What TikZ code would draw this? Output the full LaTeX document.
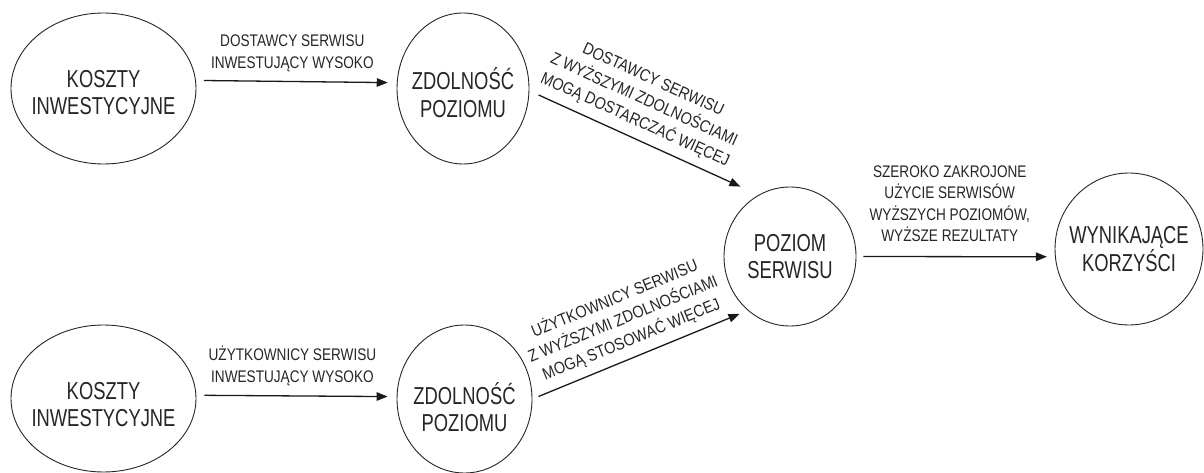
\documentclass[tikz,border=0pt]{standalone}
\usepackage{fontspec}
\setmainfont{Liberation Sans}[FakeStretch=0.75]
\newfontfamily\labfont{Liberation Sans}[FakeStretch=0.81]
\newfontfamily\diagfont{Liberation Sans}[FakeStretch=0.86]
\usetikzlibrary{arrows.meta,shapes.geometric}
\tikzset{
  blob/.style={draw=black!85, line width=0.9pt, ellipse, inner sep=0pt},
  blobtxt/.style={inner sep=0pt, align=center, text=black!85,
    font=\fontsize{24.5}{27.5}\selectfont},
  lab/.style={inner sep=0pt, align=center, text=black!85,
    font=\labfont\fontsize{16.8}{22}\selectfont},
  diag/.style={inner sep=0pt, align=center, text=black!85, sloped,
    font=\diagfont\fontsize{16.8}{22}\selectfont},
  arr/.style={line width=1.3pt, draw=black!90, -{Triangle[length=11pt,width=8.5pt]}}
}
\begin{document}
\begin{tikzpicture}[x=1pt,y=-1pt]
\useasboundingbox (0,0) rectangle (1204,473);
\fill[white] (0,0) rectangle (1204,473);
\node[blob, minimum width=185pt, minimum height=151pt,
  label={[blobtxt, yshift=-4pt]center:KOSZTY\\INWESTYCYJNE}] (K1) at (103.5,88.5) {};
\node[blob, minimum width=132pt, minimum height=151pt,
  label={[blobtxt, yshift=-4pt]center:ZDOLNOŚĆ\\POZIOMU}] (Z1) at (463,88.5) {};
\node[blob, minimum width=185pt, minimum height=147pt,
  label={[blobtxt, yshift=-6pt]center:KOSZTY\\INWESTYCYJNE}] (K2) at (103.5,398.5) {};
\node[blob, minimum width=135pt, minimum height=148pt,
  label={[blobtxt, yshift=-8pt]center:ZDOLNOŚĆ\\POZIOMU}] (Z2) at (464.5,399) {};
\node[blob, minimum width=132pt, minimum height=139pt,
  label={[blobtxt]center:POZIOM\\SERWISU}] (P) at (790,256.5) {};
\node[blob, minimum width=148pt, minimum height=152pt,
  label={[blobtxt]center:WYNIKAJĄCE\\KORZYŚCI}] (W) at (1129,249) {};

\draw[arr, shorten <=8pt, shorten >=9pt] (K1.5) -- node[lab, pos=0.48, above=9pt] {DOSTAWCY SERWISU\\INWESTUJĄCY WYSOKO} (Z1.175);
\draw[arr, shorten <=8pt, shorten >=9pt] (K2.2) -- node[lab, pos=0.48, above=9pt] {UŻYTKOWNICY SERWISU\\INWESTUJĄCY WYSOKO} (Z2.178);
\draw[arr, shorten <=10pt, shorten >=20pt] (Z1.-2) -- node[diag, pos=0.43, above=8pt] {DOSTAWCY SERWISU\\Z WYŻSZYMI ZDOLNOŚCIAMI\\MOGĄ DOSTARCZAĆ WIĘCEJ} (P.117);
\draw[arr, shorten <=6.5pt, shorten >=9pt] (Z2.0) -- node[diag, pos=0.49, above=8pt] {UŻYTKOWNICY SERWISU\\Z WYŻSZYMI ZDOLNOŚCIAMI\\MOGĄ STOSOWAĆ WIĘCEJ} (P.232);
\draw[arr, shorten <=7pt, shorten >=8pt] (P.0) -- node[lab, pos=0.47, above=14pt, font=\labfont\fontsize{16.8}{21.5}\selectfont] {SZEROKO ZAKROJONE\\UŻYCIE SERWISÓW\\WYŻSZYCH POZIOMÓW,\\WYŻSZE REZULTATY} (W.186);
\end{tikzpicture}
\end{document}
